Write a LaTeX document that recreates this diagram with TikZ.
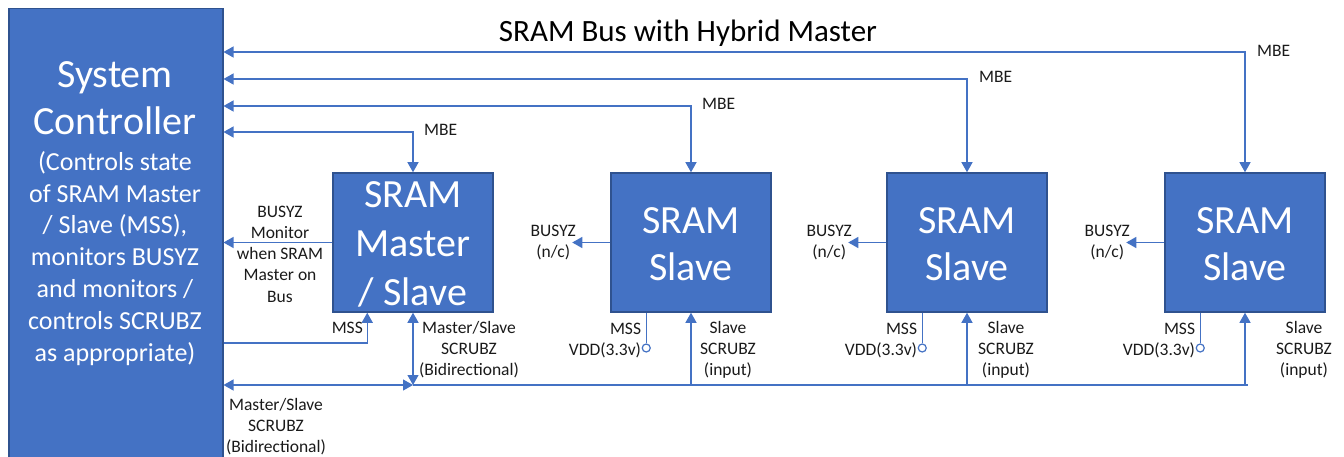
\documentclass[tikz,border=0pt]{standalone}
\usepackage{fontspec}
\setmainfont{Carlito}
\usetikzlibrary{arrows.meta}
\definecolor{boxfill}{HTML}{4472C4}
\definecolor{boxline}{HTML}{2F528F}
\definecolor{wire}{HTML}{4472C4}
\definecolor{lbltext}{HTML}{1A1A1A}
\begin{document}
\begin{tikzpicture}[x=1pt,y=-1pt,
  blk/.style={draw=boxline, fill=boxfill, line width=1.5pt, minimum width=160pt, minimum height=139pt, inner sep=0pt},
  wirel/.style={draw=wire, line width=1.2pt},
  tip/.style={wirel, -{Triangle[length=10pt,width=11pt]}},
  dbl/.style={wirel, {Triangle[length=10pt,width=11pt]}-{Triangle[length=10pt,width=11pt]}},
  lbl/.style={font=\fontsize{17.5}{21}\selectfont, text=lbltext, align=center, inner sep=0pt},
  big/.style={font=\fontsize{40}{48}\selectfont, text=white, align=center, inner sep=0pt},
  mid/.style={font=\fontsize{26}{31.8}\selectfont, text=white, align=center, inner sep=0pt},
  vdd/.style={circle, draw=wire, line width=1.2pt, fill=white, minimum size=8pt, inner sep=0pt}
]
\useasboundingbox (0,0) rectangle (1344,457);

% title
\node[font=\fontsize{31}{36}\selectfont, anchor=base, inner sep=0pt] (title) at (688,42) {SRAM Bus with Hybrid Master};

% system controller
\node[blk, minimum width=214pt, minimum height=462pt, anchor=north west] (ctrl) at (8,8) {};
\node[big, font=\fontsize{40}{47}\selectfont, anchor=base] (ctrlA) at (115,135) {System\\Controller};
\node[mid, anchor=base] (ctrlB) at (115,361) {(Controls state\\of SRAM Master\\/ Slave (MSS),\\monitors BUSYZ\\and monitors /\\controls SCRUBZ\\as appropriate)};

% boxes
\node[blk] (m) at (413,242.5) {};
\node[big, font=\fontsize{40}{48.5}\selectfont, anchor=base] (mT) at (413,305) {SRAM\\Master\\/ Slave};
\node[blk] (s1) at (691,242.5) {};
\node[big, font=\fontsize{40}{47}\selectfont, anchor=base] (s1T) at (691,280) {SRAM\\Slave};
\node[blk] (s2) at (967,242.5) {};
\node[big, font=\fontsize{40}{47}\selectfont, anchor=base] (s2T) at (967,280) {SRAM\\Slave};
\node[blk] (s3) at (1245,242.5) {};
\node[big, font=\fontsize{40}{47}\selectfont, anchor=base] (s3T) at (1245,280) {SRAM\\Slave};

% MBE lines
\draw[dbl] (ctrl.east |- 0,132) -| (m.north);
\draw[dbl] (ctrl.east |- 0,106) -| (s1.north);
\draw[dbl] (ctrl.east |- 0,79) -| (s2.north);
\draw[dbl] (ctrl.east |- 0,52) -| (s3.north);
\node[lbl, anchor=base west] (mbe0) at (424,136) {MBE};
\node[lbl, anchor=base west] (mbe1) at (702,110) {MBE};
\node[lbl, anchor=base west] (mbe2) at (979,83) {MBE};
\node[lbl, anchor=base west] (mbe3) at (1257,57) {MBE};

% BUSYZ monitor
\draw[tip] (m.west) -- (ctrl.east |- m.west);
\node[lbl, font=\fontsize{17.5}{21.25}\selectfont, anchor=base] (busm) at (280,302) {BUSYZ\\Monitor\\when SRAM\\Master on\\Bus};

% MSS master
\coordinate (mssm) at ([xshift=35pt]m.south west);
\draw[tip] (ctrl.east |- 0,343) -| (mssm);
\node[lbl, anchor=base east] (mssmL) at (363,333) {MSS};

% SCRUBZ bus
\coordinate (j) at (m.south |- 0,385);
\draw[dbl] (ctrl.east |- j) -- (j);
\draw[dbl] (m.south) -- (j);
\draw[wirel] (j) -- ([xshift=3pt]s3.south |- j);
\node[lbl, anchor=base] (scrA) at (469,375) {Master/Slave\\SCRUBZ\\(Bidirectional)};
\node[lbl, anchor=base] (scrB) at (276,452) {Master/Slave\\SCRUBZ\\(Bidirectional)};

% slaves
\foreach \s/\lx in {s1/728, s2/1006, s3/1304}{
  \draw[tip] (\s.south |- j) -- (\s.south);
  \node[lbl, anchor=base] (\s scr) at (\lx,375) {Slave\\SCRUBZ\\(input)};
  \draw[tip] (\s.west) -- ++(-38,0) coordinate (\s bz);
  \node[lbl, anchor=base] (\s bzL) at ([xshift=-19pt,yshift=-15pt]\s bz) {BUSYZ\\(n/c)};
  \coordinate (\s ms) at ([xshift=36pt]\s.south west);
  \node[vdd] (\s c) at (\s ms |- 0,348) {};
  \draw[wirel] (\s ms) -- (\s c.north);
  \node[lbl, anchor=base east, align=right] (\s msL) at ([xshift=-5pt]\s ms |- 0,355) {MSS\\VDD(3.3v)};
}
\end{tikzpicture}
\end{document}
